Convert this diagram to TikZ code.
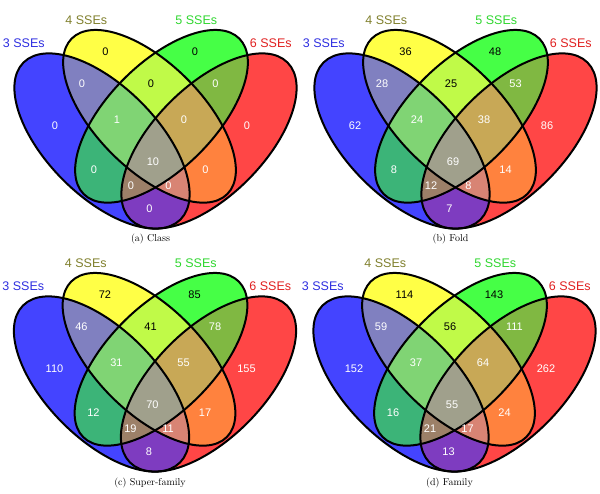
\documentclass[tikz,border=0pt]{standalone}
\usepackage{fontspec}
\newfontfamily\vennsans{Liberation Sans}
% set colours and the colours of the overlaps
\definecolor{fillB}{HTML}{4444FF}
\definecolor{fillY}{HTML}{FFFF46}
\definecolor{fillG}{HTML}{46FF46}
\definecolor{fillR}{HTML}{FF4646}
\definecolor{fillBY}{HTML}{8080C0}
\definecolor{fillBG}{HTML}{3CB478}
\definecolor{fillBR}{HTML}{7E3CC0}
\definecolor{fillYG}{HTML}{C0FA48}
\definecolor{fillYR}{HTML}{FF823E}
\definecolor{fillGR}{HTML}{80B842}
\definecolor{fillBYG}{HTML}{80D474}
\definecolor{fillBYR}{HTML}{D88474}
\definecolor{fillBGR}{HTML}{9C8068}
\definecolor{fillYGR}{HTML}{C8A856}
\definecolor{fillAll}{HTML}{A0A08C}
\definecolor{labB}{HTML}{2E2EE0}
\definecolor{labY}{HTML}{7F7F2C}
\definecolor{labG}{HTML}{2FD62F}
\definecolor{labR}{HTML}{E02020}

% the four ellipses of one panel
\newcommand\elB{(102,-141) ellipse [x radius=111pt,y radius=55pt]}
\newcommand\elY{(149.5,-116.3) ellipse [x radius=110pt,y radius=53pt]}
\newcommand\elG{(161.5,-116.3) ellipse [x radius=110pt,y radius=53pt]}
\newcommand\elR{(209,-141) ellipse [x radius=111pt,y radius=55pt]}

\newcommand\vennregions{%
  \fill[fillB,eB]\elB; \fill[fillY,eY]\elY; \fill[fillG,eG]\elG; \fill[fillR,eR]\elR;
  % pairs
  \begin{scope}\clip[eB]\elB; \fill[fillBY,eY]\elY; \fill[fillBG,eG]\elG; \fill[fillBR,eR]\elR; \end{scope}
  \begin{scope}\clip[eY]\elY; \fill[fillYG,eG]\elG; \fill[fillYR,eR]\elR; \end{scope}
  \begin{scope}\clip[eG]\elG; \fill[fillGR,eR]\elR; \end{scope}
  % triples
  \begin{scope}\clip[eB]\elB; \clip[eY]\elY; \fill[fillBYG,eG]\elG; \fill[fillBYR,eR]\elR; \end{scope}
  \begin{scope}\clip[eG]\elG; \clip[eR]\elR; \fill[fillBGR,eB]\elB; \fill[fillYGR,eY]\elY; \end{scope}
  % all four
  \begin{scope}\clip[eB]\elB; \clip[eY]\elY; \clip[eG]\elG; \fill[fillAll,eR]\elR; \end{scope}
  \draw[outline,eB]\elB; \draw[outline,eY]\elY; \draw[outline,eG]\elG; \draw[outline,eR]\elR;
}

\newcommand\vennpanel[3]{%
  \vennregions
  \node[lab,text=labB] (#1-sB) at (23.8,-43.3) {3 SSEs};
  \node[lab,text=labY] (#1-sY) at (86.3,-20) {4 SSEs};
  \node[lab,text=labG] (#1-sG) at (196.3,-20) {5 SSEs};
  \node[lab,text=labR] (#1-sR) at (270.8,-43.3) {6 SSEs};
  % cells: B Y G R BY YG GR BYG YGR BG all YR BGR BYR BR
  \foreach \x/\y [count=\k] in {55/126,105.5/51.7,195/51.7,247/126,82/84,151/84,215.5/84,
      117/120,184/120,94/169.3,153/161.7,205.5/169.3,131/186,168.5/186,149.5/209}
    \coordinate (#1-\k) at (\x,-\y);
  \foreach \n [count=\k] in {#3} {
    \ifnum\k=2 \def\tc{black}\else\ifnum\k=3 \def\tc{black}\else
      \ifnum\k=6 \def\tc{black}\else\def\tc{white}\fi\fi\fi
    \node[num,text=\tc] (#1-n\k) at (#1-\k) {\n};
  }
  \node[capt] (#1-cap) at (150.5,-239.5) {#2};
}

\begin{document}
\begin{tikzpicture}[x=1pt,y=1pt,
  lab/.style={font=\vennsans\fontsize{12.5}{14}\selectfont,inner sep=0pt},
  num/.style={font=\vennsans\fontsize{11}{13}\selectfont,inner sep=0pt},
  capt/.style={font=\fontsize{10}{12}\selectfont,inner sep=0pt},
  outline/.style={draw=black,line width=2pt},
  eB/.style={rotate around={-45:(102,-141)}},
  eY/.style={rotate around={-45:(149.5,-116.3)}},
  eG/.style={rotate around={45:(161.5,-116.3)}},
  eR/.style={rotate around={45:(209,-141)}}]
\useasboundingbox (0,0) rectangle (600,-494);
\begin{scope}
  \vennpanel{a}{(a) Class}{0,0,0,0,0,0,0,1,0,0,10,0,0,0,0}
\end{scope}
\begin{scope}[shift={(300,0)}]
  \vennpanel{b}{(b) Fold}{62,36,48,86,28,25,53,24,38,8,69,14,12,8,7}
\end{scope}
\begin{scope}[shift={(-0.5,-243)}]
  \vennpanel{c}{(c) Super-family}{110,72,85,155,46,41,78,31,55,12,70,17,19,11,8}
\end{scope}
\begin{scope}[shift={(299,-243)}]
  \vennpanel{d}{(d) Family}{152,114,143,262,59,56,111,37,64,16,55,24,21,17,13}
\end{scope}
\end{tikzpicture}
\end{document}
